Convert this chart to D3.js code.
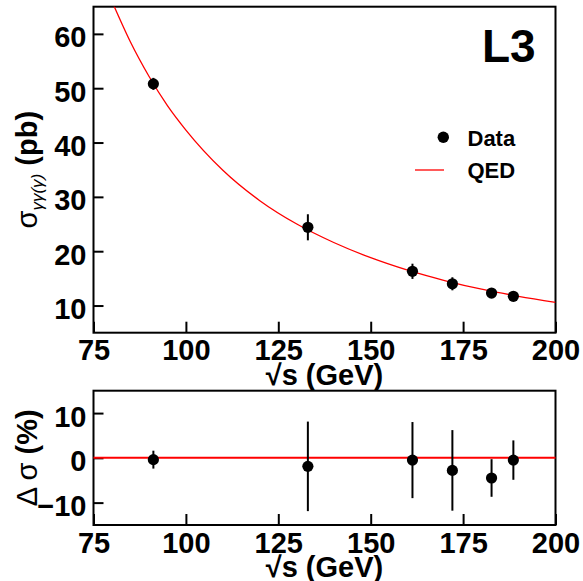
<!DOCTYPE html>
<html>
<head>
<meta charset="utf-8">
<script src="https://cdn.jsdelivr.net/npm/d3@7"></script>
<style>
  body { margin: 0; background: #fff; }
  text { font-family: "Liberation Sans", Arial, sans-serif; }
</style>
</head>
<body>
<div id="chart"></div>
<script>
// Data
const energies = [91.2, 133.0, 161.3, 172.1, 182.7, 188.6];
const sigma = [50.8, 24.4, 16.3, 14.0, 12.3, 11.7];
const sigmaErr = [1.1, 2.4, 1.4, 1.2, 0.6, 0.6];
const delta = [-0.4, -1.9, -0.5, -2.8, -4.5, -0.5];
const deltaErr = [2.0, 10.0, 8.5, 9.0, 4.2, 4.4];

// QED prediction sampled along the curve
const qedEnergy = [80.5, 85, 90, 95, 100, 110, 120, 130, 140, 150, 160, 170, 180, 190, 200];
const qedSigma = [65.2, 58.5, 52.2, 46.8, 42.3, 34.9, 29.3, 25.0, 21.6, 18.8, 16.5, 14.6, 13.0, 11.7, 10.6];

const xTicks = [75, 100, 125, 150, 175, 200];
const topTicks = [10, 20, 30, 40, 50, 60];
const bottomTicks = [-10, 0, 10];

const W = 583, H = 581;
const left = 93.5, right = 555.5;

const svg = d3.select('#chart')
  .append('svg')
  .attr('width', W)
  .attr('height', H);

const x = d3.scaleLinear().domain([75, 200]).range([left, right]);
const yTop = d3.scaleLinear().domain([5, 65]).range([332.7, 6.7]);
const yBot = d3.scaleLinear().domain([-15, 15]).range([525, 390.7]);

const pointsTop = energies.map((e, i) => ({ e, v: sigma[i], err: sigmaErr[i] }));
const pointsBot = energies.map((e, i) => ({ e, v: delta[i], err: deltaErr[i] }));

const styleAxis = g => {
  g.select('.domain').remove();
  g.selectAll('.tick line').attr('stroke', '#000').attr('stroke-width', 2);
  g.selectAll('.tick text')
    .attr('fill', '#000')
    .style('font-size', '29px')
    .style('font-weight', 'bold');
};

const panel = (y, ticks, yTitle) => {
  const [y0, y1] = y.range();

  // x axis, ticks pointing inward
  svg.append('g')
    .attr('transform', `translate(0, ${y0})`)
    .call(d3.axisBottom(x).tickValues(xTicks).tickSize(-11).tickSizeOuter(0).tickPadding(7))
    .call(styleAxis);

  // y axis
  svg.append('g')
    .attr('transform', `translate(${left}, 0)`)
    .call(d3.axisLeft(y).tickValues(ticks).tickSize(-10).tickSizeOuter(0).tickPadding(7))
    .call(styleAxis)
    .call(g => g.selectAll('.tick text').attr('dy', '0.45em'));

  // frame
  svg.append('rect')
    .attr('x', left)
    .attr('y', y1)
    .attr('width', right - left)
    .attr('height', y0 - y1)
    .attr('fill', 'none')
    .attr('stroke', '#000')
    .attr('stroke-width', 2);

  // x title
  svg.append('text')
    .attr('x', (left + right) / 2)
    .attr('y', y0 + 52)
    .attr('text-anchor', 'middle')
    .style('font-size', '29px')
    .style('font-weight', 'bold')
    .text('√s (GeV)');

  // y title
  const t = svg.append('text')
    .attr('transform', `translate(37, ${(y0 + y1) / 2}) rotate(-90)`)
    .attr('text-anchor', 'middle')
    .style('font-size', '29px');
  yTitle(t);
};

panel(yTop, topTicks, t => {
  t.append('tspan').text('σ');
  t.append('tspan')
    .attr('dy', 6)
    .style('font-size', '17px')
    .style('font-style', 'italic')
    .text('γγ(γ)');
  t.append('tspan')
    .attr('dy', -6)
    .style('font-weight', 'bold')
    .text(' (pb)');
});

panel(yBot, bottomTicks, t => {
  t.append('tspan').text('Δ σ ');
  t.append('tspan').style('font-weight', 'bold').text('(%)');
});

// QED curve, clipped to the top frame
svg.append('clipPath')
  .attr('id', 'clip-top')
  .append('rect')
  .attr('x', left)
  .attr('y', yTop.range()[1])
  .attr('width', right - left)
  .attr('height', yTop.range()[0] - yTop.range()[1]);

const line = d3.line()
  .x(d => x(d[0]))
  .y(d => yTop(d[1]))
  .curve(d3.curveMonotoneX);

svg.append('path')
  .datum(qedEnergy.map((e, i) => [e, qedSigma[i]]))
  .attr('clip-path', 'url(#clip-top)')
  .attr('d', line)
  .attr('fill', 'none')
  .attr('stroke', '#ff0000')
  .attr('stroke-width', 1.3);

// zero line in the ratio panel
svg.append('line')
  .attr('x1', left)
  .attr('x2', right)
  .attr('y1', yBot(0))
  .attr('y2', yBot(0))
  .attr('stroke', '#ff0000')
  .attr('stroke-width', 2);

const drawPoints = (data, y) => {
  const g = svg.append('g');
  g.selectAll('line.err')
    .data(data)
    .enter()
    .append('line')
    .attr('class', 'err')
    .attr('x1', d => x(d.e))
    .attr('x2', d => x(d.e))
    .attr('y1', d => y(d.v - d.err))
    .attr('y2', d => y(d.v + d.err))
    .attr('stroke', '#000')
    .attr('stroke-width', 2);
  g.selectAll('circle')
    .data(data)
    .enter()
    .append('circle')
    .attr('cx', d => x(d.e))
    .attr('cy', d => y(d.v))
    .attr('r', 5.6)
    .attr('fill', '#000');
};

drawPoints(pointsTop, yTop);
drawPoints(pointsBot, yBot);

// L3 label
svg.append('text')
  .attr('x', 482)
  .attr('y', 61.7)
  .style('font-size', '46px')
  .style('font-weight', 'bold')
  .text('L3');

// legend
svg.append('circle')
  .attr('cx', 443.3)
  .attr('cy', 137.3)
  .attr('r', 5.7)
  .attr('fill', '#000');
svg.append('text')
  .attr('x', 467.5)
  .attr('y', 145.7)
  .style('font-size', '22px')
  .style('font-weight', 'bold')
  .text('Data');
svg.append('line')
  .attr('x1', 415)
  .attr('x2', 444)
  .attr('y1', 170)
  .attr('y2', 170)
  .attr('stroke', '#ff0000')
  .attr('stroke-width', 1.3);
svg.append('text')
  .attr('x', 467.5)
  .attr('y', 178.3)
  .style('font-size', '22px')
  .style('font-weight', 'bold')
  .text('QED');
</script>
</body>
</html>
